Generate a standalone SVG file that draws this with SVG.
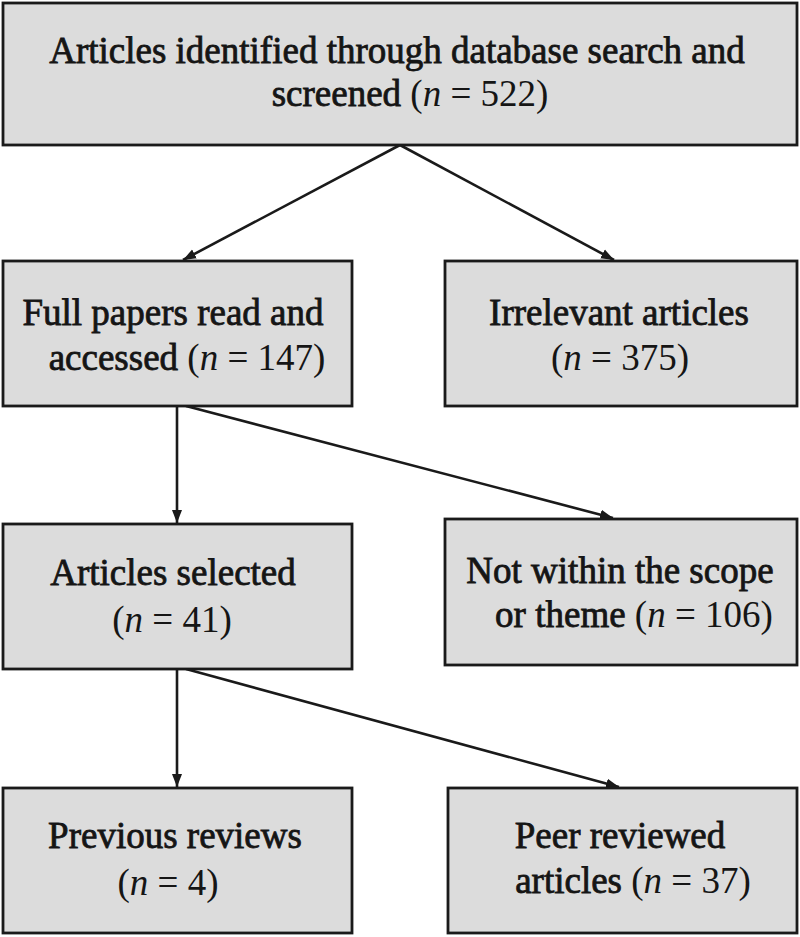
<svg xmlns="http://www.w3.org/2000/svg" width="800" height="937" viewBox="0 0 800 937">
<defs>
<marker id="ah" markerUnits="userSpaceOnUse" markerWidth="14" markerHeight="14" viewBox="0 0 14 14" refX="13" refY="7" orient="auto">
<path d="M0,2 L13,7 L0,12 Z" fill="#1a1a1a"/>
</marker>
<style>
.box{fill:#dcdcdc;stroke:#1a1a1a;stroke-width:2.8}
.t{font-family:"Liberation Serif","Times New Roman",serif;font-size:37px;fill:#151515;text-anchor:middle}
.w{stroke:#151515;stroke-width:0.8}
.c{fill:none;stroke:#1a1a1a;stroke-width:2.6}
</style>
</defs>
<rect width="800" height="937" fill="#ffffff"/>
<g id="connectors">
<line class="c" x1="400" y1="145" x2="183" y2="260" marker-end="url(#ah)"/>
<line class="c" x1="400" y1="145" x2="614" y2="260" marker-end="url(#ah)"/>
<line class="c" x1="177" y1="406" x2="177" y2="523" marker-end="url(#ah)"/>
<line class="c" x1="186" y1="406" x2="613" y2="518" marker-end="url(#ah)"/>
<line class="c" x1="177" y1="669" x2="177" y2="787" marker-end="url(#ah)"/>
<line class="c" x1="186" y1="669" x2="619" y2="787" marker-end="url(#ah)"/>
</g>
<g id="n1">
<rect class="box" x="3" y="3" width="794" height="142"/>
<text class="t" x="397" y="63"><tspan class="w">Articles identified through database search and</tspan></text>
<text class="t" x="410" y="106"><tspan class="w">screened</tspan> (<tspan font-style="italic">n</tspan> = 522)</text>
</g>
<g id="n2">
<rect class="box" x="3" y="261" width="349" height="145"/>
<text class="t" x="173" y="325"><tspan class="w">Full papers read and</tspan></text>
<text class="t" x="187" y="370"><tspan class="w">accessed</tspan> (<tspan font-style="italic">n</tspan> = 147)</text>
</g>
<g id="n3">
<rect class="box" x="445" y="261" width="352" height="145"/>
<text class="t" x="619" y="325"><tspan class="w">Irrelevant articles</tspan></text>
<text class="t" x="620" y="370">(<tspan font-style="italic">n</tspan> = 375)</text>
</g>
<g id="n4">
<rect class="box" x="3" y="524" width="349" height="145"/>
<text class="t" x="173" y="585"><tspan class="w">Articles selected</tspan></text>
<text class="t" x="172" y="632">(<tspan font-style="italic">n</tspan> = 41)</text>
</g>
<g id="n5">
<rect class="box" x="445" y="519" width="352" height="146"/>
<text class="t" x="620" y="583"><tspan class="w">Not within the scope</tspan></text>
<text class="t" x="634" y="627"><tspan class="w">or theme</tspan> (<tspan font-style="italic">n</tspan> = 106)</text>
</g>
<g id="n6">
<rect class="box" x="3" y="788" width="349" height="145"/>
<text class="t" x="175" y="848"><tspan class="w">Previous reviews</tspan></text>
<text class="t" x="168" y="895">(<tspan font-style="italic">n</tspan> = 4)</text>
</g>
<g id="n7">
<rect class="box" x="448" y="788" width="349" height="145"/>
<text class="t" x="620" y="848"><tspan class="w">Peer reviewed</tspan></text>
<text class="t" x="633" y="893"><tspan class="w">articles</tspan> (<tspan font-style="italic">n</tspan> = 37)</text>
</g>
</svg>
